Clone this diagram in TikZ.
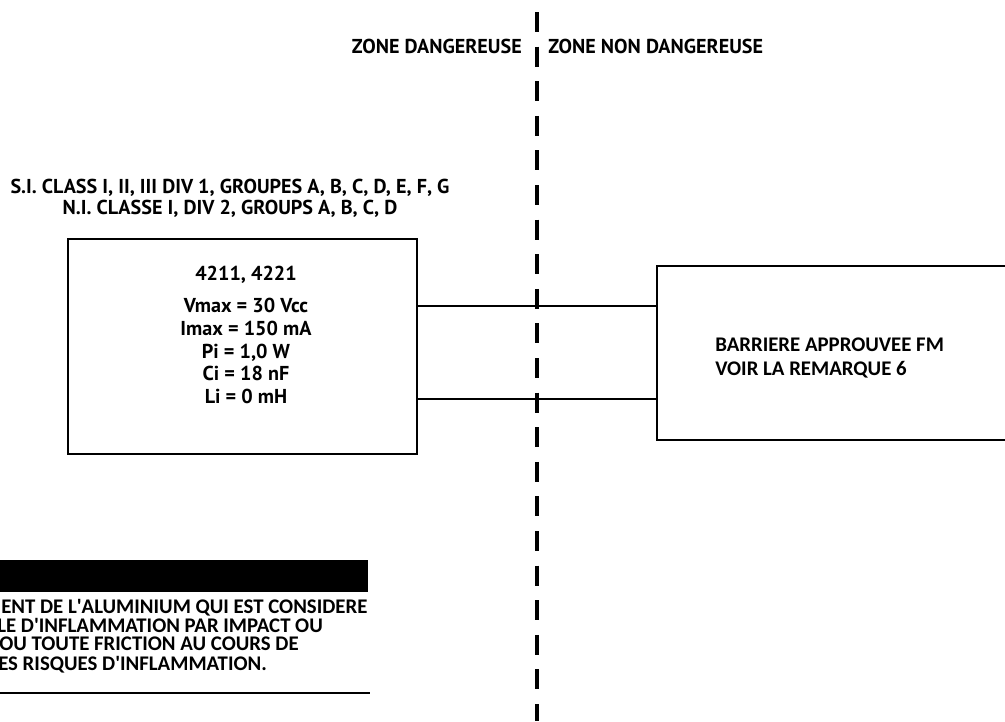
\documentclass[tikz,border=0pt]{standalone}
\usepackage{fontspec}
\newfontfamily\myriad{PT Sans}
\newfontfamily\calib{Carlito}
\tikzstyle{BoxLine} = [draw, line width=1.2pt]
\tikzstyle{WireLine} = [line width=0.9pt]
\tikzstyle{ZoneLine} = [line width=2.3pt, dash pattern=on 15pt off 10.95pt]
\tikzstyle{TextM} = [font=\myriad\bfseries\fontsize{15.1}{17}\selectfont, inner sep=0pt]
\tikzstyle{TextC} = [font=\calib\bfseries\fontsize{15.6}{15}\selectfont, inner sep=0pt]
\tikzstyle{WarnText} = [TextC, text height=10.5pt, text depth=2pt, anchor=base west]

\begin{document}
\begin{tikzpicture}[x=0.75pt,y=-0.75pt]
\useasboundingbox (0,0) rectangle (1005,721);
\clip (0,0) rectangle (1005,721);

% zone boundary
\draw [ZoneLine] (537,12) -- (537,721);
\draw (522,53) node[TextM, anchor=base east] (zoneH) {ZONE DANGEREUSE};
\draw (548,53) node[TextM, anchor=base west] (zoneS) {ZONE NON DANGEREUSE};

% approvals
\draw (230,193.5) node[TextM, anchor=base] (classSI) {S.I. CLASS I, II, III DIV 1, GROUPES A, B, C, D, E, F, G};
\draw (230,214.5) node[TextM, anchor=base] (classNI) {N.I. CLASSE I, DIV 2, GROUPS A, B, C, D};

% transmitter
\node [BoxLine, minimum width=261.75pt, minimum height=161.25pt] (xmtr) at (242.5,346.5) {};
\draw (246,280.5) node[TextM, anchor=base] (model) {4211, 4221};
\foreach \txt [count=\i] in {{Vmax = 30 Vcc},{Imax = 150 mA},{Pi = 1,0 W},{Ci = 18 nF},{Li = 0 mH}}
  \draw (246,289.75+22.75*\i) node[TextM, anchor=base] (val\i) {\txt};

% barrier
\node [BoxLine, minimum width=279.75pt, minimum height=130.5pt] (barrier) at (843.5,353) {};
\draw (715,351.5) node[TextC, anchor=base west] (bar1) {BARRIERE APPROUVEE FM};
\draw (715,375) node[TextC, anchor=base west] (bar2) {VOIR LA REMARQUE 6};

\draw [WireLine] (xmtr.east |- 0,306) -- (barrier.west |- 0,306);
\draw [WireLine] (xmtr.east |- 0,399) -- (barrier.west |- 0,399);

% warning
\fill (0,560) rectangle (368,592);
\draw (1,613.5) node[WarnText] (warn1) {ENT DE L\textquotesingle ALUMINIUM QUI EST CONSIDERE};
\draw (-3,632) node[WarnText] (warn2) {LE D\textquotesingle INFLAMMATION PAR IMPACT OU};
\draw (-1,650.5) node[WarnText] (warn3) {OU TOUTE FRICTION AU COURS DE};
\draw (-2,670) node[WarnText] (warn4) {ES RISQUES D\textquotesingle INFLAMMATION.};
\draw [line width=1.6pt] (0,693) -- (370,693);

\end{tikzpicture}
\end{document}
